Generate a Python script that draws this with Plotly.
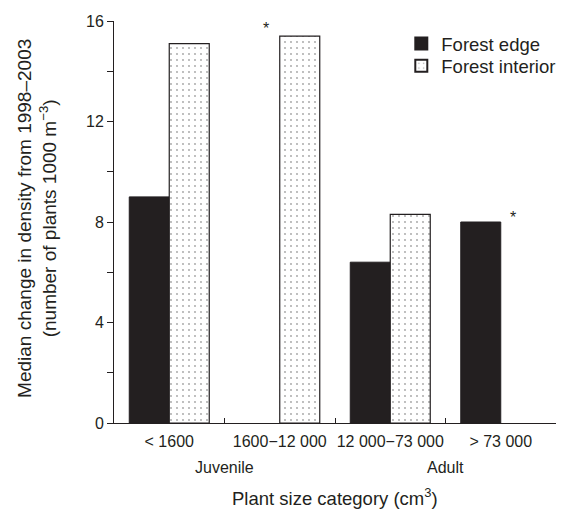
import plotly.graph_objects as go

categories = ["< 1600", "1600\u221212 000", "12 000\u221273 000", "> 73 000"]
edge_values = [9.0, None, 6.4, 8.0]
interior_values = [15.1, 15.4, 8.3, None]
series_names = ["Forest edge", "Forest interior"]
y_ticks = [0, 4, 8, 12, 16]
group_labels = ["Juvenile", "Adult"]

INK = "#231f20"
FONT = "Liberation Sans, Arial, Helvetica, sans-serif"

fig = go.Figure()
fig.add_trace(go.Bar(
    x=categories, y=edge_values, name=series_names[0], legend="legend",
    marker=dict(color=INK, line=dict(color=INK, width=1)),
))
fig.add_trace(go.Bar(
    x=categories, y=interior_values, name=series_names[1], legend="legend2",
    marker=dict(color="white", line=dict(color=INK, width=1.2),
                pattern=dict(shape=".", fgcolor="#444444", bgcolor="white",
                             size=6, solidity=0.07)),
))

# significance asterisks, anchored to the bars they refer to
fig.add_annotation(x=categories[1], y=interior_values[1], text="*",
                   showarrow=False, xshift=-14, yshift=8,
                   font=dict(size=16, color=INK, family=FONT))
fig.add_annotation(x=categories[3], y=edge_values[3], text="*",
                   showarrow=False, xshift=12, yshift=5,
                   font=dict(size=16, color=INK, family=FONT))

# group labels under the category labels
fig.add_annotation(x=0.5, xref="x", y=-0.111, yref="paper", text=group_labels[0],
                   showarrow=False, yanchor="middle",
                   font=dict(size=16, color=INK, family=FONT))
fig.add_annotation(x=2.5, xref="x", y=-0.111, yref="paper", text=group_labels[1],
                   showarrow=False, yanchor="middle",
                   font=dict(size=16, color=INK, family=FONT))

# axis titles
fig.add_annotation(x=0.5, xref="paper", y=-0.183, yref="paper",
                   text="Plant size category (cm<sup>3</sup>)",
                   showarrow=False, xanchor="center", yanchor="middle",
                   font=dict(size=18.5, color=INK, family=FONT))
fig.add_annotation(x=-0.174, xref="paper", y=0.508, yref="paper",
                   text="Median change in density from 1998\u20132003<br>(number of plants 1000 m<sup>\u22123</sup>)",
                   showarrow=False, textangle=-90, xanchor="center", yanchor="middle",
                   font=dict(size=19, color=INK, family=FONT))

legend_style = dict(x=0.650, xanchor="left", yanchor="top",
                    font=dict(size=18.5, color=INK, family=FONT),
                    bgcolor="rgba(0,0,0,0)", itemsizing="constant")

fig.update_layout(
    width=568, height=509,
    margin=dict(l=114, r=12, t=21, b=86, autoexpand=False),
    paper_bgcolor="white", plot_bgcolor="white",
    font=dict(family=FONT, color=INK, size=16),
    barmode="group", bargap=0.276, bargroupgap=0,
    showlegend=True,
    legend=dict(y=0.990, **legend_style),
    legend2=dict(y=0.935, **legend_style),
    xaxis=dict(type="category", range=[-0.5, 3.5], showline=True, linecolor=INK,
               linewidth=1, ticks="inside", tickson="boundaries", ticklen=5,
               tickcolor=INK, showgrid=False, zeroline=False, tickangle=0,
               automargin=False,
               tickfont=dict(size=16, color=INK), ticklabelstandoff=4),
    yaxis=dict(range=[0, 16], tickvals=y_ticks, showline=True, linecolor=INK,
               linewidth=1, ticks="outside", ticklen=6, tickcolor=INK,
               showgrid=False, zeroline=False, automargin=False,
               tickfont=dict(size=16, color=INK),
               minor=dict(tickvals=[2, 6, 10, 14], ticks="outside", ticklen=6,
                          tickcolor=INK, showgrid=False)),
)

fig.write_html("out.html", config={"displayModeBar": False},
               post_script="document.body.style.margin='0';document.body.style.overflow='hidden';")
